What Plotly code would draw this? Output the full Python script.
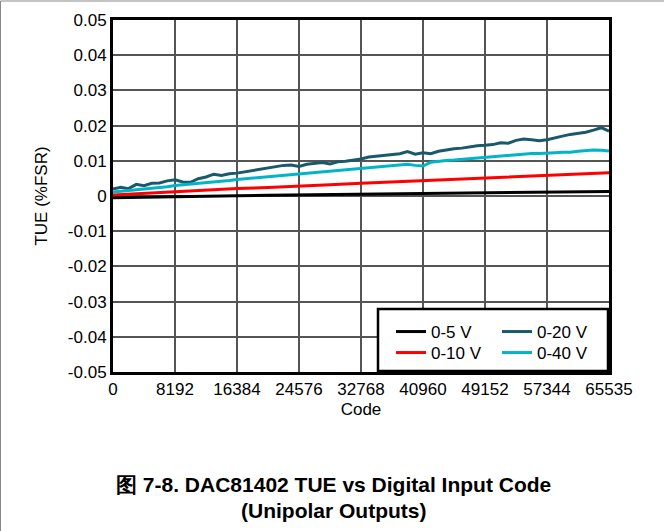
import plotly.graph_objects as go

# ---------------- data ----------------
codes_fine = [0, 1024, 2048, 3072, 4096, 5120, 6144, 7168, 8192, 9216, 10240, 11264,
              12288, 13312, 14336, 15360, 16384, 17408, 18432, 19456, 20480, 21504,
              22528, 23552, 24576, 25600, 26624, 27648, 28672, 29696, 30720, 31744,
              32768, 33792, 34816, 35840, 36864, 37888, 38912, 39936, 40960, 41984,
              43008, 44032, 45056, 46080, 47104, 48128, 49152, 50176, 51200, 52224,
              53248, 54272, 55296, 56320, 57344, 58368, 59392, 60416, 61440, 62464,
              63488, 64512, 65535]

tue_20v = [0.0020, 0.0025, 0.0021, 0.0033, 0.0029, 0.0036, 0.0037, 0.0043, 0.0046, 0.0040,
           0.0039, 0.0049, 0.0054, 0.0062, 0.0058, 0.0063, 0.0065, 0.0069, 0.0071, 0.0077,
           0.0079, 0.0083, 0.0087, 0.0088, 0.0084, 0.0090, 0.0093, 0.0095, 0.0091, 0.0097,
           0.0099, 0.0101, 0.0105, 0.0111, 0.0113, 0.0116, 0.0118, 0.0120, 0.0126, 0.0119,
           0.0123, 0.0120, 0.0127, 0.0131, 0.0134, 0.0136, 0.0140, 0.0143, 0.0144, 0.0146,
           0.0151, 0.0150, 0.0158, 0.0162, 0.0160, 0.0157, 0.0160, 0.0164, 0.0170, 0.0175,
           0.0178, 0.0181, 0.0187, 0.0194, 0.0184]

tue_40v = [0.0011, 0.0013, 0.0015, 0.0016, 0.0019, 0.0021, 0.0023, 0.0026, 0.0030, 0.0032,
           0.0033, 0.0035, 0.0037, 0.0039, 0.0040, 0.0044, 0.0047, 0.0049, 0.0050, 0.0052,
           0.0054, 0.0056, 0.0058, 0.0060, 0.0062, 0.0065, 0.0067, 0.0069, 0.0071, 0.0073,
           0.0075, 0.0078, 0.0080, 0.0082, 0.0083, 0.0085, 0.0087, 0.0089, 0.0090, 0.0087,
           0.0085, 0.0096, 0.0099, 0.0101, 0.0102, 0.0104, 0.0105, 0.0107, 0.0109, 0.0111,
           0.0113, 0.0115, 0.0117, 0.0119, 0.0121, 0.0121, 0.0123, 0.0123, 0.0124, 0.0124,
           0.0127, 0.0129, 0.0131, 0.0130, 0.0128]

codes_coarse = [0, 4096, 8192, 12288, 16384, 20480, 24576, 28672, 32768, 36864, 40960,
                45056, 49152, 53248, 57344, 61440, 65535]

tue_10v = [0.0003, 0.0008, 0.0012, 0.0017, 0.0021, 0.0024, 0.0027, 0.0032, 0.0036, 0.0040,
           0.0043, 0.0047, 0.0052, 0.0055, 0.0059, 0.0062, 0.0066]

tue_5v = [-0.0005, -0.0003, -0.0002, 0.0000, 0.0001, 0.0002, 0.0003, 0.0004, 0.0004, 0.0005,
          0.0006, 0.0007, 0.0008, 0.0009, 0.0011, 0.0012, 0.0013]

x_tickvals = [0, 8192, 16384, 24576, 32768, 40960, 49152, 57344, 65535]
x_ticktext = ["0", "8192", "16384", "24576", "32768", "40960", "49152", "57344", "65535"]
y_tickvals = [0.05, 0.04, 0.03, 0.02, 0.01, 0, -0.01, -0.02, -0.03, -0.04, -0.05]
y_ticktext = ["0.05", "0.04", "0.03", "0.02", "0.01", "0", "-0.01", "-0.02", "-0.03", "-0.04", "-0.05"]

# ---------------- figure ----------------
FONT = "Liberation Sans, Arial, sans-serif"
W, H = 664, 531
L, R, T, B = 113, 55, 20, 159
ph = H - T - B
pw = W - L - R

def py(ypix):
    return (H - B - ypix) / ph

def px(xpix):
    return (xpix - L) / pw

fig = go.Figure()
fig.add_trace(go.Scatter(x=codes_coarse, y=tue_5v, mode="lines", name="0-5 V",
                         line=dict(color="#000000", width=3), legend="legend"))
fig.add_trace(go.Scatter(x=codes_coarse, y=tue_10v, mode="lines", name="0-10 V",
                         line=dict(color="#ff0000", width=3), legend="legend2"))
fig.add_trace(go.Scatter(x=codes_fine, y=tue_20v, mode="lines", name="0-20 V",
                         line=dict(color="#185a6c", width=3), legend="legend3"))
fig.add_trace(go.Scatter(x=codes_fine, y=tue_40v, mode="lines", name="0-40 V",
                         line=dict(color="#00b5c8", width=3), legend="legend4"))

legend_common = dict(orientation="v", yanchor="top", xanchor="left",
                     bgcolor="rgba(0,0,0,0)", borderwidth=0,
                     font=dict(size=17), traceorder="normal",
                     tracegroupgap=0, itemwidth=30)

COL1, COL2 = 391, 497
ROW1, ROW2 = 314, 335

fig.update_layout(
    width=W, height=H,
    margin=dict(l=L, r=R, t=T, b=B),
    paper_bgcolor="white", plot_bgcolor="white",
    font=dict(family=FONT, size=17, color="black"),
    xaxis=dict(range=[0, 65535], tickvals=x_tickvals, ticktext=x_ticktext,
               showgrid=True, gridcolor="#555555", gridwidth=1.5,
               showline=True, linecolor="black", linewidth=3, mirror=True,
               ticks="", zeroline=False, tickfont=dict(size=17),
               title=dict(text="Code", standoff=5, font=dict(size=17))),
    yaxis=dict(range=[-0.05, 0.05], tickvals=y_tickvals, ticktext=y_ticktext,
               showgrid=True, gridcolor="#555555", gridwidth=1.5,
               showline=True, linecolor="black", linewidth=3, mirror=True,
               ticks="", zeroline=False, tickfont=dict(size=17),
               title=dict(text="TUE (%FSR)", standoff=16, font=dict(size=17))),
    legend=dict(x=px(COL1), y=py(ROW1), **legend_common),
    legend2=dict(x=px(COL1), y=py(ROW2), **legend_common),
    legend3=dict(x=px(COL2), y=py(ROW1), **legend_common),
    legend4=dict(x=px(COL2), y=py(ROW2), **legend_common),
    showlegend=True,
)

# legend frame
fig.add_shape(type="rect", xref="paper", yref="paper", layer="above",
              x0=px(378), x1=px(608), y0=py(309), y1=py(371),
              fillcolor="white", line=dict(color="black", width=2.5))

# outer frame lines (top and left)
fig.add_shape(type="line", xref="paper", yref="paper",
              x0=px(0.5), x1=px(W), y0=py(1), y1=py(1),
              line=dict(color="#888888", width=1))
fig.add_shape(type="line", xref="paper", yref="paper",
              x0=px(0.5), x1=px(0.5), y0=py(1), y1=py(H),
              line=dict(color="#888888", width=1))

# caption
fig.add_annotation(text="<b>图 7-8. DAC81402 TUE vs Digital Input Code</b>",
                   xref="paper", yref="paper", x=px(333), y=py(484),
                   xanchor="center", yanchor="middle", showarrow=False,
                   font=dict(size=21, family=FONT))
fig.add_annotation(text="<b>(Unipolar Outputs)</b>",
                   xref="paper", yref="paper", x=px(333), y=py(510),
                   xanchor="center", yanchor="middle", showarrow=False,
                   font=dict(size=21, family=FONT))

fig.write_html("out.html", config={"displayModeBar": False},
               post_script="document.body.style.margin='0';")
